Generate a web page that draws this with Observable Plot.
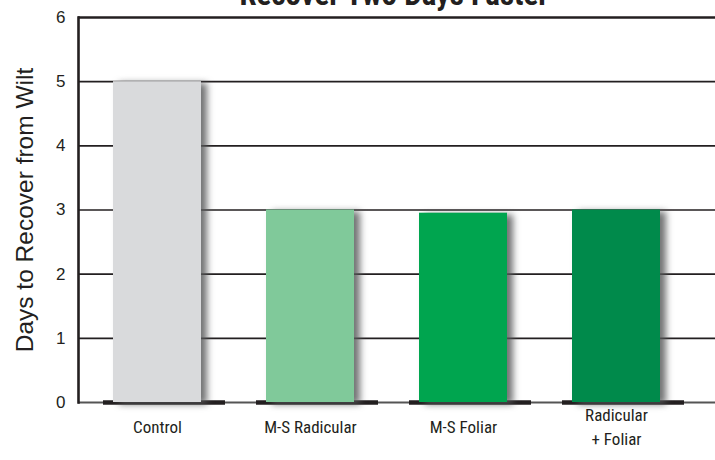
<!DOCTYPE html>
<html>
<head>
<meta charset="utf-8">
<script src="https://cdn.jsdelivr.net/npm/d3@7"></script>
<script src="https://cdn.jsdelivr.net/npm/@observablehq/plot@0.6"></script>
<style>
  body { margin: 0; background: #fff; }
  .shadow rect { filter: blur(3.5px); }
  .narrow, .narrow text { font-stretch: condensed; }
</style>
</head>
<body>
<div id="chart"></div>
<script>
// Days needed for wilted plants to recover, by treatment
const treatments = ["Control", "M-S Radicular", "M-S Foliar", "Radicular\n+ Foliar"];
const days = [5, 3, 2.95, 3];
const barColors = ["#d9dadc", "#80c99a", "#00a54f", "#008a4b"];
const yTicks = [0, 1, 2, 3, 4, 5, 6];
const gridValues = [1, 2, 3, 4, 5];
const title = "Recover Two Days Faster";
const yTitle = "Days to Recover from Wilt";

const rows = treatments.map((t, i) => ({treatment: t, days: days[i], color: barColors[i]}));

const ink = "#231f20";
const plain = "'Liberation Sans', Arial, Helvetica, sans-serif";
const narrow = "Roboto, 'Open Sans', sans-serif";

const chart = Plot.plot({
  width: 715,
  height: 460,
  marginLeft: 78,
  marginRight: 0,
  marginTop: 17,
  marginBottom: 58,
  style: {fontFamily: plain, background: "#fff", color: ink},
  x: {domain: treatments, range: [113, 660], paddingInner: 0.425, paddingOuter: 0, label: null},
  y: {domain: [0, 6], label: null},
  marks: [
    // horizontal grid
    Plot.ruleY(gridValues, {stroke: ink, strokeWidth: 1.6}),
    Plot.ruleY([6], {stroke: ink, strokeWidth: 2.6}),
    Plot.ruleY([0], {stroke: "#555", strokeWidth: 2}),
    // heavier baseline segments under each bar
    Plot.tickY(rows, {x: "treatment", y: 0, stroke: ink, strokeWidth: 4.5, insetLeft: -10, insetRight: -24}),
    Plot.frame({anchor: "left", stroke: ink, strokeWidth: 2.6}),
    // soft drop shadows behind the bars
    Plot.barY(rows, {x: "treatment", y: "days", fill: "#58595b", fillOpacity: 0.85, dx: 6, dy: 2, className: "shadow"}),
    Plot.barY(rows, {x: "treatment", y: "days", fill: "color"}),
    Plot.axisY(yTicks, {tickSize: 0, tickPadding: 13, fontSize: 17, fontFamily: plain, fill: ink, tickFormat: d => String(d)}),
    Plot.axisX({tickSize: 0, tickPadding: 23, fontSize: 17, fontFamily: narrow, fill: ink, lineHeight: 1.4, lineAnchor: "middle", className: "narrow"}),
    Plot.text([yTitle], {frameAnchor: "left", dx: -53, rotate: -90, textAnchor: "middle", fontSize: 24.5, fontFamily: plain, fill: ink}),
    Plot.text([title], {frameAnchor: "top", dx: -3, dy: -13, lineAnchor: "bottom", fontSize: 31, fontWeight: "bold", fontFamily: narrow, fill: ink, className: "narrow"})
  ]
});

document.getElementById("chart").append(chart);
</script>
</body>
</html>
